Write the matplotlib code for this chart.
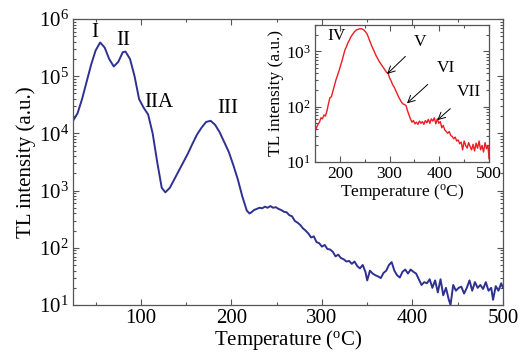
import numpy as np
import matplotlib
matplotlib.use('Agg')
import matplotlib.pyplot as plt
from matplotlib.ticker import MultipleLocator, LogLocator, LogFormatterMathtext, NullFormatter

# main glow curve, log10 of TL intensity
temp_main = [25, 30, 35, 40, 45, 50, 55, 60, 65, 70, 75, 80, 83, 88, 93, 98, 103, 108,
             113, 118, 123, 127, 132, 137, 142, 147, 152, 157, 162, 167, 172, 177, 182,
             187, 192, 197, 202, 207, 212, 217, 220,
             222, 225, 228, 231, 234, 237, 240, 243, 246, 249, 252, 255, 258, 261, 264,
             267, 270, 273, 276, 279, 282, 285, 288, 291, 294, 297, 300, 303, 306, 309,
             312, 315, 318, 321, 324, 327, 330, 333, 336, 339, 342, 345, 348, 350, 353,
             356, 359, 362, 365, 368, 371, 374, 377, 380, 383, 386, 389, 392, 395, 398,
             401, 404, 407, 410, 413, 416, 419, 422, 425, 428, 431, 434, 437, 440, 442,
             445, 448, 451, 454, 457, 460, 463, 466, 469, 472, 475, 478, 481, 484, 487,
             489, 492, 495, 498, 500]
logI_main = [4.22, 4.35, 4.6, 4.9, 5.2, 5.45, 5.59, 5.5, 5.3, 5.17, 5.25, 5.42, 5.43, 5.3,
             5.0, 4.6, 4.45, 4.33, 4.0, 3.5, 3.05, 2.97, 3.05, 3.2, 3.35, 3.5, 3.65, 3.82,
             3.98, 4.1, 4.2, 4.22, 4.15, 4.02, 3.85, 3.68, 3.45, 3.2, 2.9, 2.65, 2.6,
             2.62, 2.66, 2.68, 2.70, 2.69, 2.72, 2.70, 2.73, 2.70, 2.71, 2.68, 2.66, 2.63,
             2.62, 2.57, 2.55, 2.47, 2.44, 2.40, 2.34, 2.30, 2.25, 2.18, 2.20, 2.10, 2.08,
             2.02, 2.05, 1.98, 1.97, 1.93, 1.85, 1.88, 1.82, 1.80, 1.76, 1.77, 1.72, 1.76,
             1.68, 1.64, 1.70, 1.58, 1.43, 1.60, 1.55, 1.52, 1.50, 1.47, 1.56, 1.60, 1.70,
             1.75, 1.60, 1.52, 1.48, 1.58, 1.62, 1.55, 1.62, 1.58, 1.55, 1.45, 1.35, 1.40,
             1.38, 1.45, 1.30, 1.43, 1.22, 1.45, 1.17, 1.30, 1.10, 1.00, 1.35, 1.25, 1.30,
             1.32, 1.20, 1.30, 1.43, 1.25, 1.40, 1.30, 1.35, 1.28, 1.40, 1.25, 1.30, 1.09,
             1.33, 1.25, 1.38, 1.30]

# inset glow curve (red)
temp_ins = list(range(150, 500, 3)) + [500]
logI_ins = [1.55, 1.62, 1.68, 1.72, 1.80, 1.78, 1.85, 1.83, 1.92, 2.05, 2.16, 2.18, 2.28,
            2.38, 2.48, 2.56, 2.64, 2.73, 2.82, 2.92, 3.02, 3.08, 3.15, 3.20, 3.26, 3.30,
            3.34, 3.37, 3.39, 3.40, 3.41, 3.41, 3.40, 3.38, 3.35, 3.31, 3.24, 3.17, 3.10,
            3.04, 2.98, 2.92, 2.87, 2.82, 2.78, 2.74, 2.70, 2.66, 2.62, 2.61, 2.52, 2.47,
            2.40, 2.36, 2.30, 2.24, 2.18, 2.13, 2.08, 2.05, 2.04, 2.02, 1.93, 1.85, 1.78,
            1.72, 1.75, 1.69, 1.72, 1.68, 1.74, 1.70, 1.73, 1.68, 1.75, 1.71, 1.77, 1.70,
            1.78, 1.74, 1.80, 1.69, 1.78, 1.70, 1.73, 1.62, 1.66, 1.58, 1.55, 1.52, 1.55,
            1.48, 1.46, 1.42, 1.45, 1.38, 1.40, 1.33, 1.36, 1.22, 1.38, 1.30, 1.25, 1.35,
            1.28, 1.22, 1.32, 1.20, 1.34, 1.25, 1.38, 1.22, 1.30, 1.18, 1.35, 1.24, 1.30,
            1.06]

peak_main = ['I', 'II', 'IIA', 'III']
peak_main_xy = [(49, 10**5.76), (81, 10**5.62), (120, 10**4.54), (196, 10**4.43)]

plt.rcParams['font.family'] = 'Liberation Serif'
plt.rcParams['mathtext.fontset'] = 'custom'
plt.rcParams['mathtext.rm'] = 'Liberation Serif'
plt.rcParams['mathtext.it'] = 'Liberation Serif:italic'
frame = '#555555'

def style(ax, fs, major, minor):
    ax.set_yscale('log')
    ax.xaxis.set_major_locator(MultipleLocator(major))
    ax.xaxis.set_minor_locator(MultipleLocator(minor))
    ax.yaxis.set_major_locator(LogLocator(base=10))
    ax.yaxis.set_minor_locator(LogLocator(base=10, subs=np.arange(2, 10)))
    ax.yaxis.set_major_formatter(LogFormatterMathtext())
    ax.yaxis.set_minor_formatter(NullFormatter())
    ax.tick_params(which='both', direction='in', top=True, right=True,
                   color=frame, labelsize=fs, width=0.8)
    ax.tick_params(which='major', length=4, pad=3)
    ax.tick_params(which='minor', length=2)
    for s in ax.spines.values():
        s.set_color(frame)
        s.set_linewidth(0.9)

fig = plt.figure(figsize=(5.2, 3.57), dpi=100)
ax = fig.add_axes([73/520, 1-305/357, 430/520, 286/357])
ax.plot(temp_main, 10**np.array(logI_main), color='#2e3192', lw=1.4)
ax.set_xlim(25, 500)
ax.set_ylim(10, 1e6)
style(ax, 15, 100, 50)
ax.set_xlabel('Temperature ($^{\\mathrm{o}}$C)', fontsize=15, labelpad=0)
ax.set_ylabel('TL intensity (a.u.)', fontsize=15, labelpad=2)
for lab, (x, y) in zip(peak_main, peak_main_xy):
    ax.text(x, y, lab, fontsize=15, ha='center', va='center')

axi = fig.add_axes([315/520, 1-162/357, 174/520, 137/357])
axi.plot(temp_ins, 10**np.array(logI_ins), color='#ed1c24', lw=1.0)
axi.set_xlim(150, 500)
axi.set_ylim(10, 3000)
style(axi, 12.5, 100, 50)
axi.set_xlabel('Temperature ($^{\\mathrm{o}}$C)', fontsize=12.5, labelpad=0)
axi.set_ylabel('TL intensity (a.u.)', fontsize=12.5, labelpad=1)
axi.text(194, 1900, 'IV', fontsize=12.5, ha='center', va='center')
arrows = [('V', (362, 1480), (295, 390)),
          ('VI', (413, 500), (335, 115)),
          ('VII', (459, 182), (396, 57))]
for lab, txt, head in arrows:
    axi.annotate(lab, xy=head, xytext=txt, fontsize=12.5, ha='center', va='center',
                 arrowprops=dict(arrowstyle='->', color='black', lw=0.7,
                                 shrinkA=6, shrinkB=0))

plt.savefig('out.png', dpi=100)
